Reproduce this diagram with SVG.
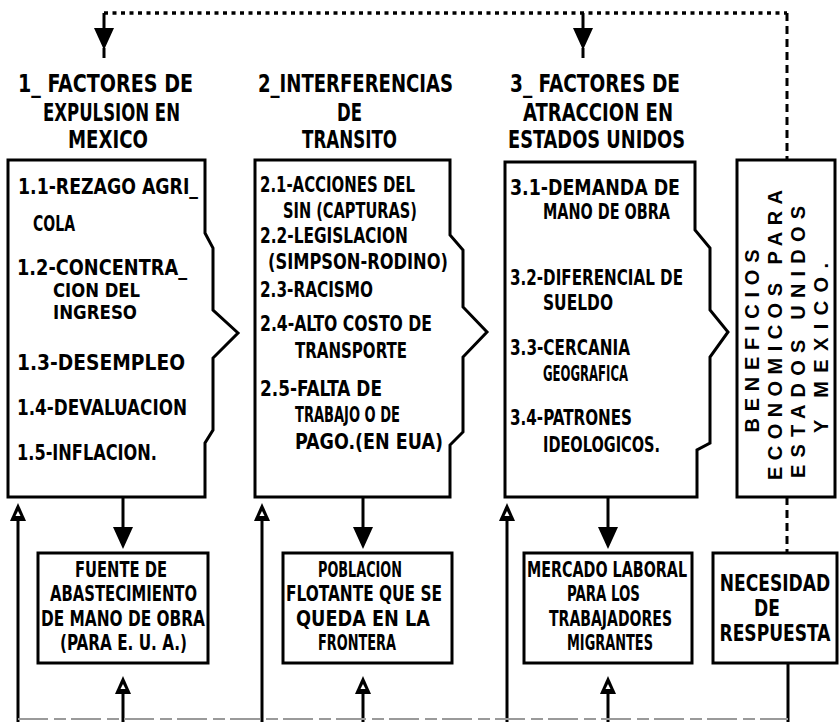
<svg xmlns="http://www.w3.org/2000/svg" width="839" height="722" viewBox="0 0 839 722">
<style>
.bg{fill:#ffffff}
.box{fill:none;stroke:#000;stroke-width:3;stroke-linejoin:miter}
.t{font-family:"DejaVu Sans Condensed","DejaVu Sans",sans-serif;font-stretch:condensed;font-weight:bold;fill:#000}
.h{font-size:24px}
.b{font-size:22px}
.s{font-size:20px}
.m{font-size:21px}
.l{font-size:19px}
.v{font-family:"Liberation Sans",Arial,sans-serif;font-weight:bold;font-size:20px;fill:#000}
.ln{stroke:#000;stroke-width:3;fill:none}
.dot{stroke:#000;stroke-width:3.5;fill:none;stroke-dasharray:4 4.5}
.dash{stroke:#000;stroke-width:3;fill:none;stroke-dasharray:8 5}
.base{stroke:#9a9a9a;stroke-width:2;fill:none;stroke-dasharray:30 6 12 5}
.ah{fill:#000}
.hole{fill:#fff}
</style>
<defs>
<g id="down"><polygon points="-10,0 10,0 0,22" class="ah"/></g>
<g id="up"><polygon points="0,0 -8,18 8,18" class="ah"/><polygon points="0,8 -2.5,13 2.5,13" class="hole"/></g>
</defs>
<rect class="bg" x="0" y="0" width="839" height="722"/>

<g id="connectors">
<line class="dot" x1="104" y1="13" x2="787" y2="13"/>
<line class="dash" x1="787" y1="13" x2="787" y2="160"/>
<line class="ln" x1="104" y1="13" x2="104" y2="30"/>
<use href="#down" x="104" y="28"/>
<line class="ln" x1="104" y1="48" x2="104" y2="58" stroke-width="2"/>
<line class="ln" x1="583" y1="13" x2="583" y2="30"/>
<use href="#down" x="583" y="28"/>
<line class="ln" x1="583" y1="48" x2="583" y2="58" stroke-width="2"/>

<line class="ln" x1="123" y1="497" x2="123" y2="530"/>
<use href="#down" x="123" y="527"/>
<line class="ln" x1="363" y1="497" x2="363" y2="530"/>
<use href="#down" x="363" y="527"/>
<line class="ln" x1="608" y1="497" x2="608" y2="530"/>
<use href="#down" x="608" y="527"/>

<line class="ln" x1="18" y1="722" x2="18" y2="518"/>
<use href="#up" x="18" y="503"/>
<line class="ln" x1="262" y1="722" x2="262" y2="518"/>
<use href="#up" x="262" y="503"/>
<line class="ln" x1="507" y1="722" x2="507" y2="518"/>
<use href="#up" x="507" y="503"/>

<line class="ln" x1="123" y1="722" x2="123" y2="690"/>
<use href="#up" x="123" y="676"/>
<line class="ln" x1="363" y1="722" x2="363" y2="690"/>
<use href="#up" x="363" y="676"/>
<line class="ln" x1="608" y1="722" x2="608" y2="690"/>
<use href="#up" x="608" y="676"/>

<line class="dash" x1="787" y1="497" x2="787" y2="553"/>
<line class="ln" x1="788" y1="663" x2="788" y2="722"/>
<line class="base" x1="18" y1="719" x2="788" y2="719"/>
</g>

<g id="header1">
<text class="t h" x="18" y="92" textLength="175" lengthAdjust="spacingAndGlyphs">1_ FACTORES DE</text>
<text class="t h" x="43" y="121" textLength="137" lengthAdjust="spacingAndGlyphs">EXPULSION EN</text>
<text class="t h" x="68" y="148" textLength="80" lengthAdjust="spacingAndGlyphs">MEXICO</text>
</g>
<g id="header2">
<text class="t h" x="258" y="92" textLength="195" lengthAdjust="spacingAndGlyphs">2_INTERFERENCIAS</text>
<text class="t h" x="337" y="121" textLength="25" lengthAdjust="spacingAndGlyphs">DE</text>
<text class="t h" x="302" y="148" textLength="95" lengthAdjust="spacingAndGlyphs">TRANSITO</text>
</g>
<g id="header3">
<text class="t h" x="510" y="92" textLength="170" lengthAdjust="spacingAndGlyphs">3_ FACTORES DE</text>
<text class="t h" x="523" y="121" textLength="150" lengthAdjust="spacingAndGlyphs">ATRACCION EN</text>
<text class="t h" x="508" y="148" textLength="177" lengthAdjust="spacingAndGlyphs">ESTADOS UNIDOS</text>
</g>

<g id="box1">
<path class="box" d="M8,160 H205 V233 L213,248 V310 L238,333 L213,358 V430 L205,443 V497 H8 Z"/>
<text class="t b" x="18" y="194" textLength="180" lengthAdjust="spacingAndGlyphs">1.1-REZAGO AGRI_</text>
<text class="t b" x="33" y="231" textLength="42" lengthAdjust="spacingAndGlyphs">COLA</text>
<text class="t b" x="17" y="275" textLength="170" lengthAdjust="spacingAndGlyphs">1.2-CONCENTRA_</text>
<text class="t s" x="53" y="297" textLength="87" lengthAdjust="spacingAndGlyphs">CION DEL</text>
<text class="t s" x="53" y="319" textLength="84" lengthAdjust="spacingAndGlyphs">INGRESO</text>
<text class="t b" x="17" y="370" textLength="168" lengthAdjust="spacingAndGlyphs">1.3-DESEMPLEO</text>
<text class="t b" x="17" y="415" textLength="170" lengthAdjust="spacingAndGlyphs">1.4-DEVALUACION</text>
<text class="t b" x="17" y="460" textLength="140" lengthAdjust="spacingAndGlyphs">1.5-INFLACION.</text>
</g>

<g id="box2">
<path class="box" d="M255,160 H450 V235 L463,250 V307 L487,332 L463,357 V432 L450,445 V497 H255 Z"/>
<text class="t b" x="260" y="192" textLength="155" lengthAdjust="spacingAndGlyphs">2.1-ACCIONES DEL</text>
<text class="t b" x="283" y="218" textLength="134" lengthAdjust="spacingAndGlyphs">SIN (CAPTURAS)</text>
<text class="t b" x="260" y="243" textLength="148" lengthAdjust="spacingAndGlyphs">2.2-LEGISLACION</text>
<text class="t b" x="268" y="269" textLength="180" lengthAdjust="spacingAndGlyphs">(SIMPSON-RODINO)</text>
<text class="t b" x="260" y="297" textLength="113" lengthAdjust="spacingAndGlyphs">2.3-RACISMO</text>
<text class="t b" x="260" y="331" textLength="172" lengthAdjust="spacingAndGlyphs">2.4-ALTO COSTO DE</text>
<text class="t b" x="295" y="358" textLength="112" lengthAdjust="spacingAndGlyphs">TRANSPORTE</text>
<text class="t b" x="260" y="396" textLength="122" lengthAdjust="spacingAndGlyphs">2.5-FALTA DE</text>
<text class="t b" x="295" y="422" textLength="105" lengthAdjust="spacingAndGlyphs">TRABAJO O DE</text>
<text class="t b" x="295" y="449" textLength="148" lengthAdjust="spacingAndGlyphs">PAGO.(EN EUA)</text>
</g>

<g id="box3">
<path class="box" d="M505,162 H695 V230 L710,248 V310 L728,332 L710,357 V443 L697,450 V497 H505 Z"/>
<text class="t b" x="510" y="195" textLength="170" lengthAdjust="spacingAndGlyphs">3.1-DEMANDA DE</text>
<text class="t b" x="543" y="219" textLength="127" lengthAdjust="spacingAndGlyphs">MANO DE OBRA</text>
<text class="t b" x="510" y="285" textLength="173" lengthAdjust="spacingAndGlyphs">3.2-DIFERENCIAL DE</text>
<text class="t b" x="543" y="310" textLength="70" lengthAdjust="spacingAndGlyphs">SUELDO</text>
<text class="t b" x="510" y="355" textLength="120" lengthAdjust="spacingAndGlyphs">3.3-CERCANIA</text>
<text class="t b" x="543" y="381" textLength="85" lengthAdjust="spacingAndGlyphs">GEOGRAFICA</text>
<text class="t b" x="510" y="425" textLength="122" lengthAdjust="spacingAndGlyphs">3.4-PATRONES</text>
<text class="t b" x="543" y="452" textLength="117" lengthAdjust="spacingAndGlyphs">IDEOLOGICOS.</text>
</g>

<g id="box4">
<rect class="box" x="737" y="160" width="98" height="337"/>
<text class="v" transform="translate(759,341) rotate(-90)" text-anchor="middle" textLength="183" lengthAdjust="spacing">BENEFICIOS</text>
<text class="v" transform="translate(782,335) rotate(-90)" text-anchor="middle" textLength="290" lengthAdjust="spacing">ECONOMICOS PARA</text>
<text class="v" transform="translate(805,342) rotate(-90)" text-anchor="middle" textLength="272" lengthAdjust="spacing">ESTADOS UNIDOS</text>
<text class="v" transform="translate(828,348) rotate(-90)" text-anchor="middle" textLength="170" lengthAdjust="spacing">Y MEXICO.</text>
</g>

<g id="fuente">
<rect class="box" x="38" y="553" width="170" height="110"/>
<text class="t m" x="75" y="577" textLength="92" lengthAdjust="spacingAndGlyphs">FUENTE DE</text>
<text class="t m" x="50" y="601" textLength="147" lengthAdjust="spacingAndGlyphs">ABASTECIMIENTO</text>
<text class="t m" x="41" y="626" textLength="164" lengthAdjust="spacingAndGlyphs">DE MANO DE OBRA</text>
<text class="t m" x="60" y="650" textLength="127" lengthAdjust="spacingAndGlyphs">(PARA E. U. A.)</text>
</g>

<g id="poblacion">
<rect class="box" x="283" y="553" width="169" height="110"/>
<text class="t m" x="318" y="577" textLength="84" lengthAdjust="spacingAndGlyphs">POBLACION</text>
<text class="t m" x="286" y="601" textLength="156" lengthAdjust="spacingAndGlyphs">FLOTANTE QUE SE</text>
<text class="t m" x="296" y="626" textLength="134" lengthAdjust="spacingAndGlyphs">QUEDA EN LA</text>
<text class="t m" x="318" y="650" textLength="78" lengthAdjust="spacingAndGlyphs">FRONTERA</text>
</g>

<g id="mercado">
<rect class="box" x="524" y="553" width="168" height="110"/>
<text class="t m" x="527" y="577" textLength="160" lengthAdjust="spacingAndGlyphs">MERCADO LABORAL</text>
<text class="t m" x="567" y="601" textLength="73" lengthAdjust="spacingAndGlyphs">PARA LOS</text>
<text class="t m" x="549" y="626" textLength="123" lengthAdjust="spacingAndGlyphs">TRABAJADORES</text>
<text class="t m" x="567" y="650" textLength="86" lengthAdjust="spacingAndGlyphs">MIGRANTES</text>
</g>

<g id="necesidad">
<rect class="box" x="713" y="553" width="124" height="110"/>
<text class="t l" transform="translate(775,591) scale(1,1.25)" text-anchor="middle">NECESIDAD</text>
<text class="t l" transform="translate(767,616) scale(1,1.25)" text-anchor="middle">DE</text>
<text class="t l" transform="translate(775,641) scale(1,1.25)" text-anchor="middle">RESPUESTA</text>
</g>
</svg>
